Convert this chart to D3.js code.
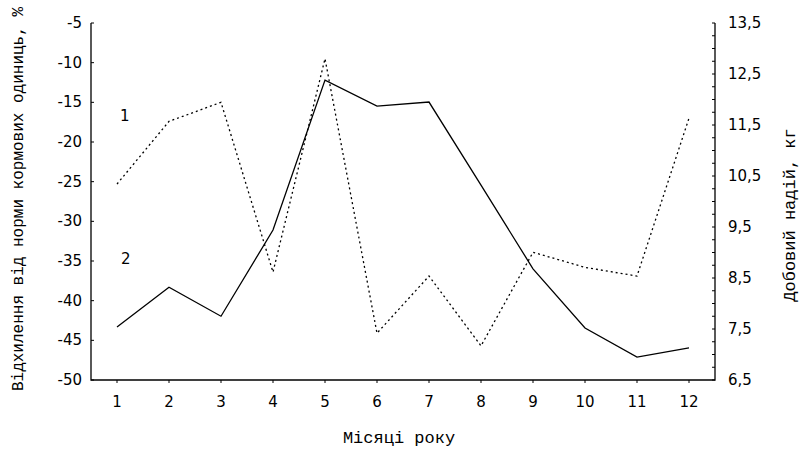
<!DOCTYPE html>
<html>
<head>
<meta charset="utf-8">
<script src="https://cdn.jsdelivr.net/npm/d3@7"></script>
<style>
  body { margin: 0; background: #fff; }
  svg { display: block; }
  .tick-label { font-family: "DejaVu Sans", sans-serif; font-size: 15px; fill: #000; }
  .title { font-family: "Liberation Mono", monospace; font-size: 17px; fill: #000; }
</style>
</head>
<body>
<svg width="808" height="451"></svg>
<script>
const months = [1, 2, 3, 4, 5, 6, 7, 8, 9, 10, 11, 12];
// series 1: deviation from feed unit norm, % (left axis), dotted
const deviation = [-25.3, -17.4, -15.0, -36.4, -9.5, -44.1, -36.9, -45.7, -33.9, -35.8, -36.9, -17.0];
// series 2: daily milk yield, kg (right axis), solid
const dailyYield = [7.54, 8.32, 7.75, 9.44, 12.38, 11.87, 11.95, 10.32, 8.68, 7.52, 6.95, 7.13];
const leftTicks = [-5, -10, -15, -20, -25, -30, -35, -40, -45, -50];
const rightTicks = [13.5, 12.5, 11.5, 10.5, 9.5, 8.5, 7.5, 6.5];

const svg = d3.select("svg");
const plotLeft = 91, plotRight = 715, plotTop = 23, plotBottom = 380;

const x = d3.scaleLinear().domain([0.5, 12.5]).range([plotLeft, plotRight]);
const yL = d3.scaleLinear().domain([-50, -5]).range([plotBottom, plotTop]);
const yR = d3.scaleLinear().domain([6.5, 13.5]).range([plotBottom, plotTop]);

// axes lines
svg.append('path')
    .attr('d', `M${plotLeft},${plotTop}V${plotBottom}H${plotRight}V${plotTop}`)
    .attr('stroke', '#000').attr('stroke-width', 1.3).attr('fill', 'none');

// left ticks (inward)
svg.append('g').selectAll('line').data(leftTicks).enter().append('line')
    .attr('x1', plotLeft).attr('x2', plotLeft + 3)
    .attr('y1', d => yL(d)).attr('y2', d => yL(d))
    .attr('stroke', '#000');
svg.append('g').selectAll('text').data(leftTicks).enter().append('text')
    .attr('class', 'tick-label')
    .attr('x', plotLeft - 9).attr('y', d => yL(d) + 5)
    .attr('text-anchor', 'end')
    .text(d => d);

// right minor ticks every 0.25 (inward)
svg.append('g').selectAll('line').data(d3.range(6.5, 13.51, 0.25)).enter().append('line')
    .attr('x1', plotRight - 3).attr('x2', plotRight)
    .attr('y1', d => yR(d)).attr('y2', d => yR(d))
    .attr('stroke', '#000');
svg.append('g').selectAll('text').data(rightTicks).enter().append('text')
    .attr('class', 'tick-label')
    .attr('x', plotRight + 13).attr('y', d => yR(d) + 5)
    .text(d => String(d).replace('.', ','));

// bottom ticks (outward)
svg.append('g').selectAll('line').data(months).enter().append('line')
    .attr('x1', d => x(d)).attr('x2', d => x(d))
    .attr('y1', plotBottom).attr('y2', plotBottom + 3)
    .attr('stroke', '#000');
svg.append('g').selectAll('text').data(months).enter().append('text')
    .attr('class', 'tick-label')
    .attr('x', d => x(d)).attr('y', 407)
    .attr('text-anchor', 'middle')
    .text(d => d);

// lines
const line1 = d3.line().x((d, i) => x(months[i])).y(d => yL(d));
const line2 = d3.line().x((d, i) => x(months[i])).y(d => yR(d));

svg.append('path').datum(deviation)
    .attr('d', line1)
    .attr('fill', 'none').attr('stroke', '#000')
    .attr('stroke-width', 1.3).attr('stroke-dasharray', '2,3');

svg.append('path').datum(dailyYield)
    .attr('d', line2)
    .attr('fill', 'none').attr('stroke', '#000')
    .attr('stroke-width', 1.3);

// series labels
svg.append('text').attr('class', 'tick-label').attr('x', 120).attr('y', 121).text('1');
svg.append('text').attr('class', 'tick-label').attr('x', 121).attr('y', 264).text('2');

// titles
svg.append('text').attr('class', 'title')
    .attr('text-anchor', 'middle')
    .attr('x', 399).attr('y', 443)
    .text('Місяці року');
svg.append('text').attr('class', 'title')
    .attr('text-anchor', 'middle')
    .style('font-size', '16px')
    .attr('transform', 'translate(23,199) rotate(-90)')
    .text('Відхилення від норми кормових одиниць, %');
svg.append('text').attr('class', 'title')
    .attr('text-anchor', 'middle')
    .attr('transform', 'translate(795,215) rotate(-90)')
    .text('Добовий надій, кг');
</script>
</body>
</html>
